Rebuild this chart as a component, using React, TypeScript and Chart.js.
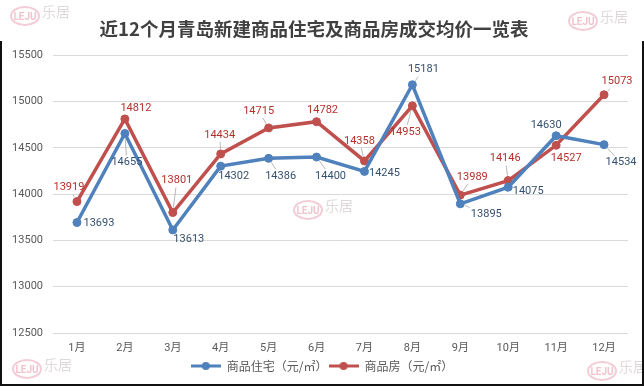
import React, { useEffect, useRef } from "react";
import { Chart, registerables } from "chart.js";

Chart.register(...registerables);

// ---- data ----
const months = ["1月", "2月", "3月", "4月", "5月", "6月", "7月", "8月", "9月", "10月", "11月", "12月"];
const residentialPrice = [13693, 14655, 13613, 14302, 14386, 14400, 14245, 15181, 13895, 14075, 14630, 14534];
const commercialPrice = [13919, 14812, 13801, 14434, 14715, 14782, 14358, 14953, 13989, 14146, 14527, 15073];
const seriesNames = ["商品住宅（元/㎡）", "商品房（元/㎡）"];
const yMin = 12500;
const yMax = 15500;
const yStep = 500;
const titleText = "近12个月青岛新建商品住宅及商品房成交均价一览表";

// ---- layout / style ----
const BLUE = "#4F81BD";
const RED = "#C0504D";
const BLUE_LABEL = "#35506F";
const RED_LABEL = "#B5302B";
const NUM_FONT = 'Roboto, "Noto Sans CJK SC", sans-serif';
const CJK_FONT = '"Noto Sans CJK SC", sans-serif';
const LEGEND_SHIFT = 8;
// label offsets in px from the point (center of text)
const blueLabelOffsets = [[22, 1], [2, 29], [16, 9], [13, 10], [12, 18], [14, 19], [20, 2], [11, -15], [26, 10], [20, 4], [-10, -11], [17, 18]];
const redLabelOffsets = [[-8, -14], [11, -11], [4, -32], [-1, -19], [-10, -17], [6, -11], [-5, -20], [-7, 26], [12, -18], [-3, -22], [10, 13], [13, -13]];
const watermarks = [
  [25, 16], [583, 21], [27, 369], [602, 371], [308, 210],
];

function makeLegendIcon(color: string) {
  const c = document.createElement("canvas");
  c.width = 30;
  c.height = 10;
  const ctx = c.getContext("2d")!;
  ctx.strokeStyle = color;
  ctx.lineWidth = 3;
  ctx.beginPath();
  ctx.moveTo(0, 5);
  ctx.lineTo(30, 5);
  ctx.stroke();
  ctx.fillStyle = color;
  ctx.beginPath();
  ctx.arc(15, 5, 4, 0, Math.PI * 2);
  ctx.fill();
  return c;
}

const decorPlugin = {
  id: "decor",
  afterLayout(chart: any) {
    if (chart.legend) {
      chart.legend.left += LEGEND_SHIFT;
      chart.legend.right += LEGEND_SHIFT;
    }
  },
  beforeDraw(chart: any) {
    const ctx = chart.ctx;
    ctx.save();
    ctx.fillStyle = "#ffffff";
    ctx.fillRect(0, 0, chart.width, chart.height);
    // faint watermarks
    ctx.globalAlpha = 0.45;
    for (const [x, y] of watermarks) {
      ctx.strokeStyle = "#E58FA3";
      ctx.lineWidth = 2;
      ctx.beginPath();
      ctx.ellipse(x, y, 14, 9, 0, 0, Math.PI * 2);
      ctx.stroke();
      ctx.fillStyle = "#E07A93";
      ctx.font = "bold 10px " + NUM_FONT;
      ctx.textAlign = "center";
      ctx.textBaseline = "middle";
      ctx.fillText("LEJU", x, y + 1);
      ctx.fillStyle = "#B9A9AE";
      ctx.font = "14px " + CJK_FONT;
      ctx.textAlign = "left";
      ctx.fillText("乐居", x + 17, y - 4);
    }
    ctx.restore();
  },
  afterDatasetsDraw(chart: any) {
    const ctx = chart.ctx;
    ctx.save();
    ctx.font = "11px " + NUM_FONT;
    ctx.textAlign = "center";
    ctx.textBaseline = "middle";
    chart.data.datasets.forEach((ds: any, di: number) => {
      const meta = chart.getDatasetMeta(di);
      const offs = di === 0 ? blueLabelOffsets : redLabelOffsets;
      meta.data.forEach((pt: any, i: number) => {
        const [dx, dy] = offs[i];
        const text = String(ds.data[i]);
        const w = ctx.measureText(text).width;
        const lx = pt.x + dx;
        const ly = pt.y + dy;
        const dist = Math.hypot(dx, dy);
        if (dist > 16) {
          const ux = dx / dist;
          const uy = dy / dist;
          const hw = w / 2 + 1;
          const hh = 7;
          const tx = Math.abs(ux) > 1e-6 ? hw / Math.abs(ux) : Infinity;
          const ty = Math.abs(uy) > 1e-6 ? hh / Math.abs(uy) : Infinity;
          const tEdge = Math.min(tx, ty);
          const endLen = dist - tEdge;
          if (endLen > 8) {
            ctx.strokeStyle = "#A6A6A6";
            ctx.lineWidth = 0.8;
            ctx.beginPath();
            ctx.moveTo(pt.x + ux * 5, pt.y + uy * 5);
            ctx.lineTo(pt.x + ux * endLen, pt.y + uy * endLen);
            ctx.stroke();
          }
        }
        ctx.fillStyle = di === 0 ? BLUE_LABEL : RED_LABEL;
        ctx.fillText(text, lx, ly);
      });
    });
    ctx.restore();
  },
  afterDraw(chart: any) {
    const ctx = chart.ctx;
    ctx.save();
    ctx.fillStyle = "#111111";
    ctx.fillRect(0, 41, 2, chart.height - 41);
    ctx.fillRect(chart.width - 2, 41, 2, chart.height - 41);
    ctx.fillRect(0, chart.height - 2, chart.width, 2);
    ctx.restore();
  },
};

export default function App() {
  const ref = useRef<HTMLCanvasElement | null>(null);
  useEffect(() => {
    if (!ref.current) return;
    const icons = [makeLegendIcon(BLUE), makeLegendIcon(RED)];
    const chart = new Chart(ref.current, {
      type: "line",
      data: {
        labels: months,
        datasets: [
          {
            label: seriesNames[0],
            data: residentialPrice,
            borderColor: BLUE,
            backgroundColor: BLUE,
            borderWidth: 3.5,
            pointRadius: 4,
            pointBorderWidth: 1,
            pointBackgroundColor: BLUE,
            pointBorderColor: BLUE,
            tension: 0,
          },
          {
            label: seriesNames[1],
            data: commercialPrice,
            borderColor: RED,
            backgroundColor: RED,
            borderWidth: 3.5,
            pointRadius: 4,
            pointBorderWidth: 1,
            pointBackgroundColor: RED,
            pointBorderColor: RED,
            tension: 0,
          },
        ],
      },
      options: {
        responsive: false,
        animation: false,
        layout: { padding: { left: 0, right: 16, top: 0, bottom: 4 } },
        plugins: {
          title: {
            display: true,
            text: titleText,
            color: "#404040",
            font: { size: 18.5, weight: "bold", family: CJK_FONT },
            padding: { top: 18, bottom: 15 },
          },
          legend: {
            position: "bottom",
            labels: {
              usePointStyle: true,
              pointStyleWidth: 30,
              boxHeight: 10,
              padding: 1,
              color: "#595959",
              font: { size: 12, family: CJK_FONT },
              generateLabels(c: any) {
                const items = (Chart.defaults.plugins.legend.labels as any).generateLabels(c);
                items.forEach((it: any, i: number) => {
                  it.pointStyle = icons[i];
                });
                return items;
              },
            },
          },
          tooltip: { enabled: false },
        },
        scales: {
          x: {
            offset: true,
            grid: { display: false, drawTicks: false },
            border: { display: false },
            ticks: {
              color: "#595959",
              font: { size: 11, family: NUM_FONT, lineHeight: 1 },
              padding: 10,
              maxRotation: 0,
            },
            afterFit(scale: any) {
              scale.height = 26;
            },
          },
          y: {
            min: yMin,
            max: yMax,
            grid: { color: "#D9D9D9", drawTicks: false },
            border: { display: false },
            ticks: {
              stepSize: yStep,
              color: "#595959",
              font: { size: 11, family: NUM_FONT },
              padding: 10,
              callback: (v: any) => String(v),
            },
            afterFit(scale: any) {
              scale.width = 53;
            },
          },
        },
      },
      plugins: [decorPlugin],
    });
    return () => chart.destroy();
  }, []);
  return (
    <div style={{ position: "absolute", left: 0, top: 0, width: 644, height: 386 }}>
      <canvas ref={ref} width={644} height={386} />
    </div>
  );
}
